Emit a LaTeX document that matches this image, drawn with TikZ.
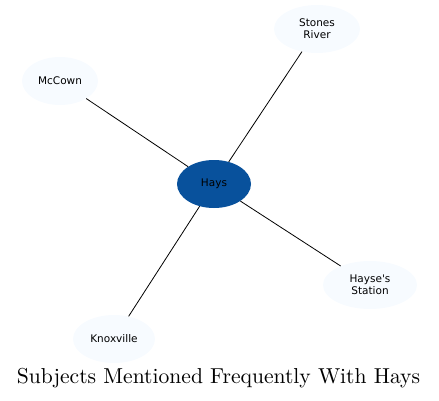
\documentclass[tikz,border=0pt]{standalone}
\usepackage{fontspec}
\newfontfamily\labelfont{DejaVu Sans}
\newfontfamily\titlefont{lmroman10-regular}[Extension=.otf]
\usetikzlibrary{shapes.geometric}
\definecolor{haysblue}{HTML}{08519C}
\definecolor{paleblue}{HTML}{F7FBFF}
\begin{document}
\begin{tikzpicture}[x=1pt,y=1pt]
        \useasboundingbox (0,0) rectangle (439,400);
        \tikzstyle{every node}=[ellipse, fill=paleblue, inner sep=0pt, minimum height=48pt, align=center, font=\labelfont\fontsize{10.5}{12}\selectfont, text=black]
        \tikzstyle{edge}=[black, line width=0.8pt]

        \node[fill=haysblue, minimum width=74pt, minimum height=48pt] (hays) at (214,216) {Hays};
        \node[minimum width=86pt] (stones)  at (317,371) {Stones\\River};
        \node[minimum width=76pt] (mccown)  at (60,319)  {McCown};
        \node[minimum width=94pt] (hayse)   at (370,115) {Hayse's\\Station};
        \node[minimum width=82pt] (knox)    at (114,61)  {Knoxville};

        \draw[edge] (hays) -- (stones);
        \draw[edge] (hays) -- (mccown);
        \draw[edge] (hays) -- (hayse);
        \draw[edge] (hays) -- (knox);

        \node[fill=none, shape=rectangle, font=\titlefont\fontsize{21.6}{26}\selectfont] (title) at (218.5,21.5) {Subjects Mentioned Frequently With Hays};
    \end{tikzpicture}
\end{document}
